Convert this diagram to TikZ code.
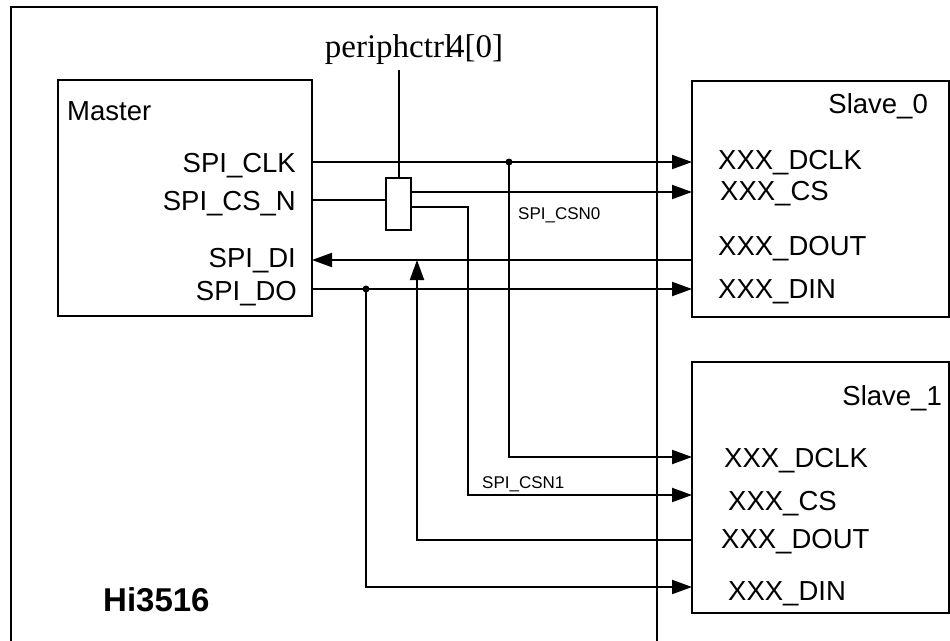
\documentclass[tikz,border=0pt]{standalone}
\usepackage{fontspec}
\setmainfont{Liberation Sans}
\newfontfamily\ctrlfont{Liberation Serif}
\usetikzlibrary{arrows.meta, positioning}

\begin{document}
\begin{tikzpicture}[
    x=1pt, y=-1pt,
    blk/.style={rectangle, draw, line width=2.2pt, inner sep=0pt},
    pin/.style={font=\fontsize{27.5}{30}\selectfont, inner sep=0pt, text height=20pt, text depth=0pt},
    sig/.style={font=\fontsize{17}{19}\selectfont, inner sep=0pt, text height=12pt, text depth=0pt, anchor=west},
    wire/.style={line width=2pt},
    arrow/.style={wire, -{Triangle[length=20pt, width=14pt]}},
    dot/.style={circle, fill, inner sep=0pt, minimum size=7pt}
]
    \fill[white] (0,0) rectangle (950,640);
    \useasboundingbox (0,0) rectangle (950,640);

    % Hi3516 chip outline (bottom edge runs off the page)
    \draw[line width=2.2pt] (11,660) -- (11,7) -- (657,7) -- (657,660);
    \node[font=\fontsize{33}{36}\selectfont\bfseries, inner sep=0pt, anchor=west] (chip) at (103,600) {Hi3516};

    % Master
    \node[blk, minimum width=254pt, minimum height=236pt] (master) at (185,198) {};
    \node[pin, anchor=west] (mname) at (67,110) {Master};
    \node[pin, anchor=east] (mclk) at (296,162) {SPI\_CLK};
    \node[pin, anchor=east] (mcsn) at (296,200) {SPI\_CS\_N};
    \node[pin, anchor=east] (mdi) at (296,257) {SPI\_DI};
    \node[pin, anchor=east] (mdo) at (297,290) {SPI\_DO};
    \coordinate (m_clk) at (312,162);
    \coordinate (m_cs) at (312,200);
    \coordinate (m_di) at (312,260);
    \coordinate (m_do) at (312,289);

    % chip select switch
    \node[blk, line width=2pt, minimum width=25pt, minimum height=52pt] (mux) at (398.5,204) {};
    \node[font=\fontsize{33}{36}\selectfont\ctrlfont, inner sep=0pt] (pctl) at (414,50) {periphctrl\kern-5pt 4[0]};
    \coordinate (ctrl) at (398.5,70);
    \coordinate (mux_o0) at (411,192);
    \coordinate (mux_o1) at (411,207);

    % Slave_0
    \node[blk, minimum width=257pt, minimum height=236pt] (slave0) at (820.5,199) {};
    \node[pin, anchor=east] (s0name) at (928,103) {Slave\_0};
    \node[pin, anchor=west] (s0dclk) at (718,159) {XXX\_DCLK};
    \node[pin, anchor=west] (s0cs) at (720,190) {XXX\_CS};
    \node[pin, anchor=west] (s0dout) at (718,245) {XXX\_DOUT};
    \node[pin, anchor=west] (s0din) at (718,288) {XXX\_DIN};
    \coordinate (s0_dclk) at (692,162);
    \coordinate (s0_cs) at (692,192);
    \coordinate (s0_dout) at (692,260);
    \coordinate (s0_din) at (692,289);

    % Slave_1
    \node[blk, minimum width=257pt, minimum height=251pt] (slave1) at (820.5,487.5) {};
    \node[pin, anchor=east] (s1name) at (942,395) {Slave\_1};
    \node[pin, anchor=west] (s1dclk) at (724,457) {XXX\_DCLK};
    \node[pin, anchor=west] (s1cs) at (728,500) {XXX\_CS};
    \node[pin, anchor=west] (s1dout) at (721,538) {XXX\_DOUT};
    \node[pin, anchor=west] (s1din) at (728,590) {XXX\_DIN};
    \coordinate (s1_dclk) at (692,457);
    \coordinate (s1_cs) at (692,495);
    \coordinate (s1_dout) at (692,540);
    \coordinate (s1_din) at (692,587);

    % taps
    \node[dot] (j_clk) at (509,162) {};
    \node[dot] (j_do) at (366,289) {};
    \coordinate (di_tap) at (417,260);

    % clock
    \draw[arrow] (m_clk) -- (s0_dclk);
    \draw[arrow] (j_clk.center) |- (s1_dclk);

    % chip selects
    \draw[wire] (ctrl) -- (mux.north);
    \draw[wire] (m_cs) -- (m_cs -| mux.west);
    \draw[arrow] (mux_o0) -- (s0_cs);
    \draw[arrow] (mux_o1) -- ++(57,0) |- (s1_cs);
    \node[sig] (csn0) at (518,213) {SPI\_CSN0};
    \node[sig] (csn1) at (482,482) {SPI\_CSN1};

    % data in
    \draw[arrow] (s0_dout) -- (m_di);
    \draw[arrow] (s1_dout) -| (di_tap);

    % data out
    \draw[arrow] (m_do) -- (s0_din);
    \draw[arrow] (j_do.center) |- (s1_din);
\end{tikzpicture}
\end{document}
